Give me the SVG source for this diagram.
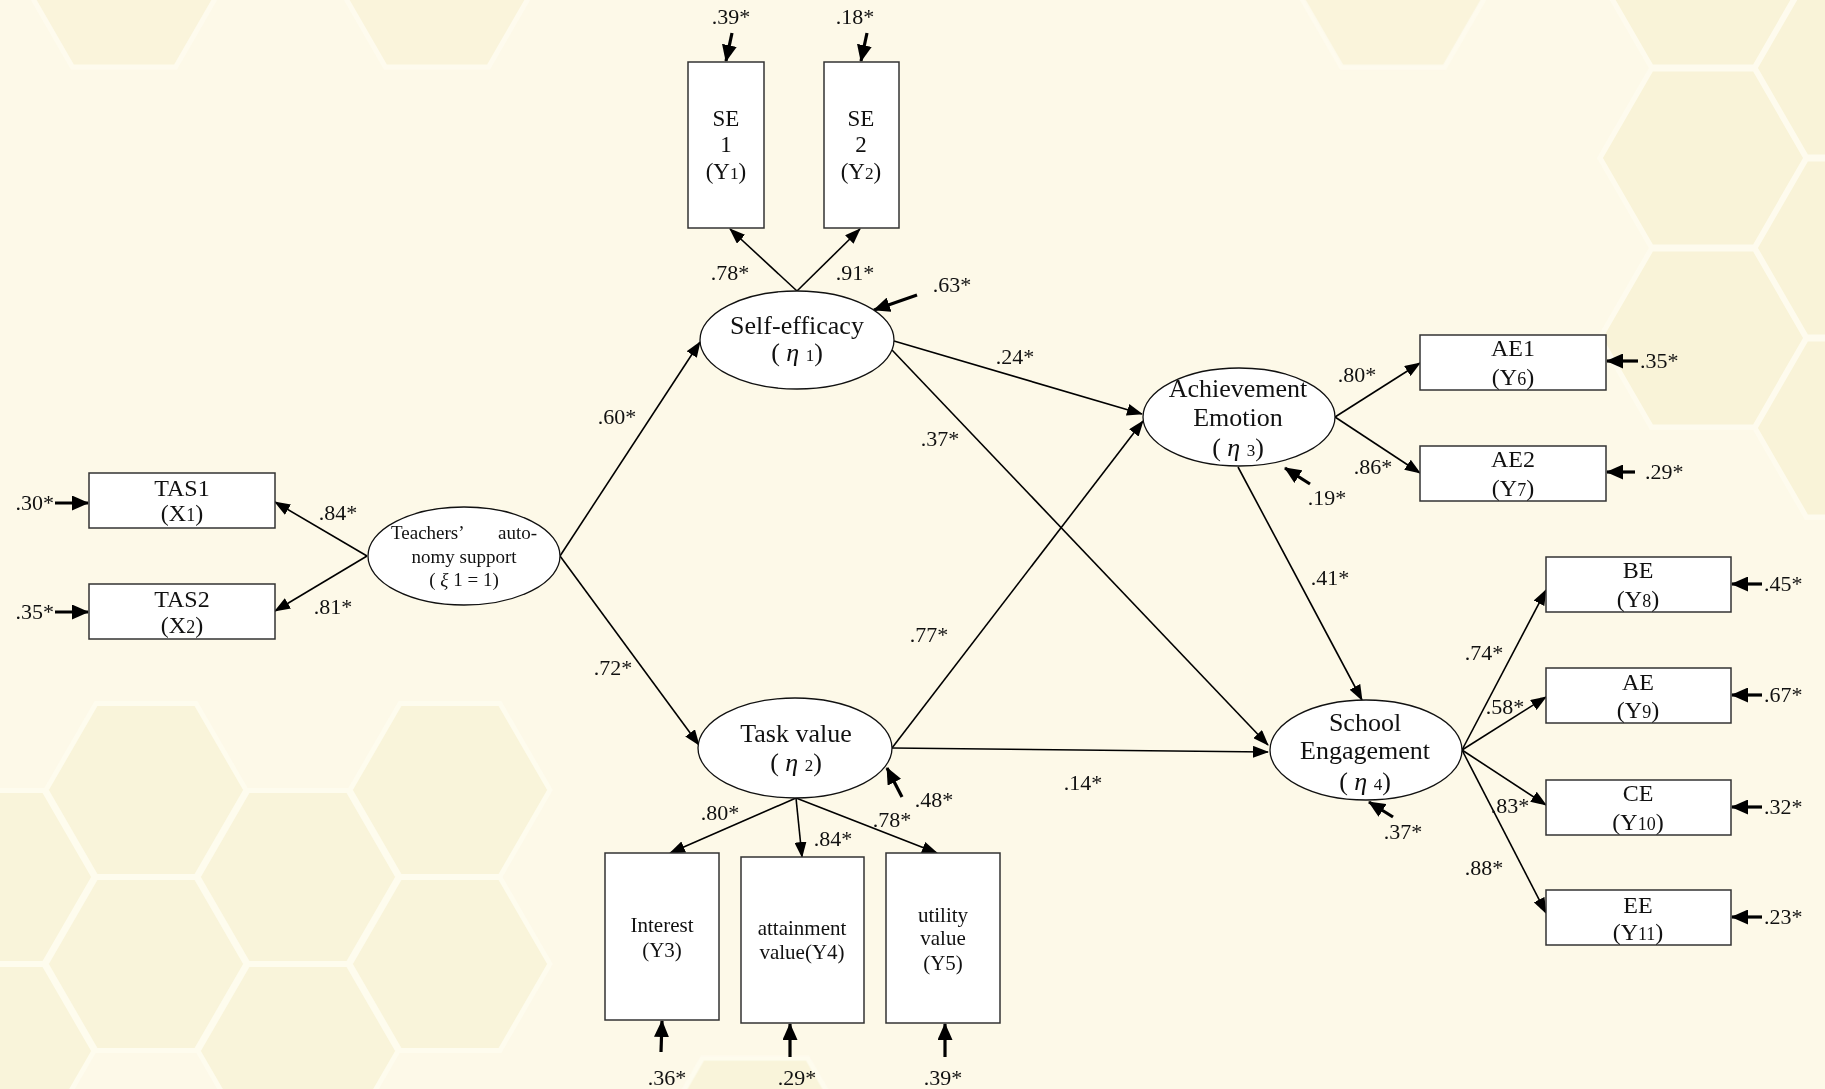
<svg xmlns="http://www.w3.org/2000/svg" width="1825" height="1089" viewBox="0 0 1825 1089">
<defs>
<style>
text{font-family:"Liberation Serif","Times New Roman",serif;fill:#111}
.box{fill:#fff;stroke:#333;stroke-width:1.5}
.lat{fill:#fff;stroke:#111;stroke-width:1.3}
.c{stroke:#000;stroke-width:1.6;fill:none;marker-end:url(#ah)}
.r{stroke:#000;stroke-width:3.2;fill:none;marker-end:url(#ahb)}
.n{font-size:22px;text-anchor:middle}
.ns{font-size:22px;text-anchor:start}
.ne{font-size:22px;text-anchor:end}
.lt{font-size:26px;text-anchor:middle}
.bt{font-size:24px;text-anchor:middle}
.se{font-size:23px;text-anchor:middle}
.tv{font-size:21px;text-anchor:middle}
.ts{font-size:19px}
.it{font-style:italic}
.sub{font-size:0.75em}
.hx{fill:#F7F1D0;stroke:#FFFDF2;stroke-width:5}
</style>
<path id="hx" d="M100,0 L50,86.6 L-50,86.6 L-100,0 L-50,-86.6 L50,-86.6 Z"/>
<marker id="ah" markerUnits="userSpaceOnUse" markerWidth="16" markerHeight="12" viewBox="0 0 16 12" refX="15" refY="6" orient="auto"><path d="M0,0 L16,6 L0,12 Z" fill="#000"/></marker>
<marker id="ahb" markerUnits="userSpaceOnUse" markerWidth="17" markerHeight="15" viewBox="0 0 17 15" refX="16" refY="7.5" orient="auto"><path d="M0,0 L17,7.5 L0,15 Z" fill="#000"/></marker>
</defs>
<rect width="1825" height="1089" fill="#FDF9E8"/>
<g id="background" class="hx">
<g opacity="0.55">
<use href="#hx" transform="translate(124,-22) scale(1.03)"/>
<use href="#hx" transform="translate(437,-22) scale(1.03)"/>
<use href="#hx" transform="translate(1393,-22) scale(1.03)"/>
</g>
<g opacity="0.65">
<use href="#hx" transform="translate(1703,-22) scale(1.03)"/>
<use href="#hx" transform="translate(1703,158) scale(1.03)"/>
<use href="#hx" transform="translate(1703,338) scale(1.03)"/>
<use href="#hx" transform="translate(1858,68) scale(1.03)"/>
<use href="#hx" transform="translate(1858,248) scale(1.03)"/>
<use href="#hx" transform="translate(1858,428) scale(1.03)"/>
</g>
<g opacity="0.6">
<use href="#hx" transform="translate(146,790)"/>
<use href="#hx" transform="translate(450,790)"/>
<use href="#hx" transform="translate(298,877)"/>
<use href="#hx" transform="translate(-6,877)"/>
<use href="#hx" transform="translate(146,964)"/>
<use href="#hx" transform="translate(450,964)"/>
<use href="#hx" transform="translate(298,1051)"/>
<use href="#hx" transform="translate(-6,1051)"/>
<use href="#hx" transform="translate(755,1149) scale(1.05)"/>
</g>
</g>

<g id="connectors">
<line class="c" x1="367" y1="556" x2="275" y2="502"/>
<line class="c" x1="367" y1="556" x2="275" y2="611"/>
<line class="c" x1="560" y1="556" x2="700" y2="342"/>
<line class="c" x1="560" y1="556" x2="699" y2="745"/>
<line class="c" x1="797" y1="291" x2="730" y2="229"/>
<line class="c" x1="797" y1="291" x2="860" y2="229"/>
<line class="c" x1="894" y1="341" x2="1142" y2="414"/>
<line class="c" x1="892" y1="350" x2="1268" y2="745"/>
<line class="c" x1="892" y1="748" x2="1143" y2="421"/>
<line class="c" x1="892" y1="748" x2="1268" y2="752"/>
<line class="c" x1="1238" y1="467" x2="1362" y2="700"/>
<line class="c" x1="1335" y1="417" x2="1420" y2="363"/>
<line class="c" x1="1335" y1="417" x2="1420" y2="473"/>
<line class="c" x1="1462" y1="750" x2="1546" y2="590"/>
<line class="c" x1="1462" y1="750" x2="1546" y2="697"/>
<line class="c" x1="1462" y1="750" x2="1546" y2="805"/>
<line class="c" x1="1462" y1="750" x2="1546" y2="913"/>
<line class="c" x1="796" y1="798" x2="670" y2="853"/>
<line class="c" x1="796" y1="798" x2="802" y2="857"/>
<line class="c" x1="796" y1="798" x2="937" y2="853"/>
<line class="r" x1="732" y1="33" x2="726" y2="61"/>
<line class="r" x1="867" y1="33" x2="861" y2="61"/>
<line class="r" x1="917" y1="295" x2="874" y2="310"/>
<line class="r" x1="55" y1="503" x2="88" y2="503"/>
<line class="r" x1="55" y1="612" x2="88" y2="612"/>
<line class="r" x1="902" y1="797" x2="887" y2="768"/>
<line class="r" x1="661" y1="1052" x2="662" y2="1021"/>
<line class="r" x1="790" y1="1057" x2="790" y2="1024"/>
<line class="r" x1="945" y1="1057" x2="945" y2="1024"/>
<line class="r" x1="1310" y1="484" x2="1285" y2="468"/>
<line class="r" x1="1393" y1="817" x2="1369" y2="802"/>
<line class="r" x1="1638" y1="361" x2="1607" y2="361"/>
<line class="r" x1="1635" y1="472" x2="1607" y2="472"/>
<line class="r" x1="1762" y1="584" x2="1732" y2="584"/>
<line class="r" x1="1762" y1="695" x2="1732" y2="695"/>
<line class="r" x1="1762" y1="807" x2="1732" y2="807"/>
<line class="r" x1="1762" y1="917" x2="1732" y2="917"/>
</g>

<g id="labels">
<text class="n" x="731" y="24">.39*</text>
<text class="n" x="855" y="24">.18*</text>
<text class="n" x="730" y="280">.78*</text>
<text class="n" x="855" y="280">.91*</text>
<text class="n" x="952" y="292">.63*</text>
<text class="n" x="1015" y="364">.24*</text>
<text class="n" x="617" y="424">.60*</text>
<text class="n" x="940" y="446">.37*</text>
<text class="n" x="929" y="642">.77*</text>
<text class="n" x="613" y="675">.72*</text>
<text class="n" x="1083" y="790">.14*</text>
<text class="n" x="934" y="807">.48*</text>
<text class="n" x="720" y="820">.80*</text>
<text class="n" x="833" y="846">.84*</text>
<text class="n" x="892" y="827">.78*</text>
<text class="n" x="667" y="1085">.36*</text>
<text class="n" x="797" y="1085">.29*</text>
<text class="n" x="943" y="1085">.39*</text>
<text class="ne" x="54" y="510">.30*</text>
<text class="ne" x="54" y="619">.35*</text>
<text class="n" x="338" y="520">.84*</text>
<text class="n" x="333" y="614">.81*</text>
<text class="n" x="1357" y="382">.80*</text>
<text class="n" x="1373" y="474">.86*</text>
<text class="n" x="1327" y="505">.19*</text>
<text class="ns" x="1640" y="368">.35*</text>
<text class="ns" x="1645" y="479">.29*</text>
<text class="n" x="1330" y="585">.41*</text>
<text class="n" x="1484" y="660">.74*</text>
<text class="n" x="1505" y="714">.58*</text>
<text class="n" x="1510" y="813">.83*</text>
<text class="n" x="1484" y="875">.88*</text>
<text class="n" x="1403" y="839">.37*</text>
<text class="ns" x="1764" y="591">.45*</text>
<text class="ns" x="1764" y="702">.67*</text>
<text class="ns" x="1764" y="814">.32*</text>
<text class="ns" x="1764" y="924">.23*</text>
</g>

<g id="TAS">
<ellipse class="lat" cx="464" cy="556" rx="96" ry="49"/>
<text class="ts" x="391" y="539">Teachers’</text>
<text class="ts" x="537" y="539" text-anchor="end">auto-</text>
<text class="ts" x="464" y="563" text-anchor="middle">nomy support</text>
<text class="ts" x="464" y="586" text-anchor="middle">( <tspan class="it">ξ</tspan> 1 = 1)</text>
</g>
<g id="TAS1">
<rect class="box" x="89" y="473" width="186" height="55"/>
<text class="bt" x="182" y="496">TAS1</text>
<text class="bt" x="182" y="521">(X<tspan class="sub">1</tspan>)</text>
</g>
<g id="TAS2">
<rect class="box" x="89" y="584" width="186" height="55"/>
<text class="bt" x="182" y="607">TAS2</text>
<text class="bt" x="182" y="633">(X<tspan class="sub">2</tspan>)</text>
</g>

<g id="SelfEfficacy">
<ellipse class="lat" cx="797" cy="340" rx="97" ry="49"/>
<text class="lt" x="797" y="334">Self-efficacy</text>
<text class="lt" x="797" y="361" font-size="24">( <tspan class="it">η</tspan> <tspan font-size="17">1</tspan>)</text>
</g>
<g id="SE1">
<rect class="box" x="688" y="62" width="76" height="166"/>
<text class="se" x="726" y="126">SE</text>
<text class="se" x="726" y="152">1</text>
<text class="se" x="726" y="179">(Y<tspan class="sub">1</tspan>)</text>
</g>
<g id="SE2">
<rect class="box" x="824" y="62" width="75" height="166"/>
<text class="se" x="861" y="126">SE</text>
<text class="se" x="861" y="152">2</text>
<text class="se" x="861" y="179">(Y<tspan class="sub">2</tspan>)</text>
</g>

<g id="TaskValue">
<ellipse class="lat" cx="795" cy="748" rx="97" ry="50"/>
<text class="lt" x="796" y="742">Task value</text>
<text class="lt" x="796" y="771" font-size="24">( <tspan class="it">η</tspan> <tspan font-size="17">2</tspan>)</text>
</g>
<g id="Interest">
<rect class="box" x="605" y="853" width="114" height="167"/>
<text class="tv" x="662" y="932">Interest</text>
<text class="tv" x="662" y="957">(Y3)</text>
</g>
<g id="Attainment">
<rect class="box" x="741" y="857" width="123" height="166"/>
<text class="tv" x="802" y="935">attainment</text>
<text class="tv" x="802" y="959">value(Y4)</text>
</g>
<g id="Utility">
<rect class="box" x="886" y="853" width="114" height="170"/>
<text class="tv" x="943" y="922">utility</text>
<text class="tv" x="943" y="945">value</text>
<text class="tv" x="943" y="970">(Y5)</text>
</g>

<g id="AchievementEmotion">
<ellipse class="lat" cx="1239" cy="417" rx="96" ry="49"/>
<text class="lt" x="1238" y="397">Achievement</text>
<text class="lt" x="1238" y="426">Emotion</text>
<text class="lt" x="1238" y="456" font-size="24">( <tspan class="it">η</tspan> <tspan font-size="17">3</tspan>)</text>
</g>
<g id="AE1">
<rect class="box" x="1420" y="335" width="186" height="55"/>
<text class="bt" x="1513" y="356">AE1</text>
<text class="bt" x="1513" y="385">(Y<tspan class="sub">6</tspan>)</text>
</g>
<g id="AE2">
<rect class="box" x="1420" y="446" width="186" height="55"/>
<text class="bt" x="1513" y="467">AE2</text>
<text class="bt" x="1513" y="496">(Y<tspan class="sub">7</tspan>)</text>
</g>

<g id="SchoolEngagement">
<ellipse class="lat" cx="1366" cy="750" rx="96" ry="50"/>
<text class="lt" x="1365" y="731">School</text>
<text class="lt" x="1365" y="759">Engagement</text>
<text class="lt" x="1365" y="790" font-size="24">( <tspan class="it">η</tspan> <tspan font-size="17">4</tspan>)</text>
</g>
<g id="BE">
<rect class="box" x="1546" y="557" width="185" height="55"/>
<text class="bt" x="1638" y="578">BE</text>
<text class="bt" x="1638" y="607">(Y<tspan class="sub">8</tspan>)</text>
</g>
<g id="AE">
<rect class="box" x="1546" y="668" width="185" height="55"/>
<text class="bt" x="1638" y="690">AE</text>
<text class="bt" x="1638" y="718">(Y<tspan class="sub">9</tspan>)</text>
</g>
<g id="CE">
<rect class="box" x="1546" y="780" width="185" height="55"/>
<text class="bt" x="1638" y="801">CE</text>
<text class="bt" x="1638" y="830">(Y<tspan class="sub">10</tspan>)</text>
</g>
<g id="EE">
<rect class="box" x="1546" y="890" width="185" height="55"/>
<text class="bt" x="1638" y="913">EE</text>
<text class="bt" x="1638" y="940">(Y<tspan class="sub">11</tspan>)</text>
</g>
</svg>
